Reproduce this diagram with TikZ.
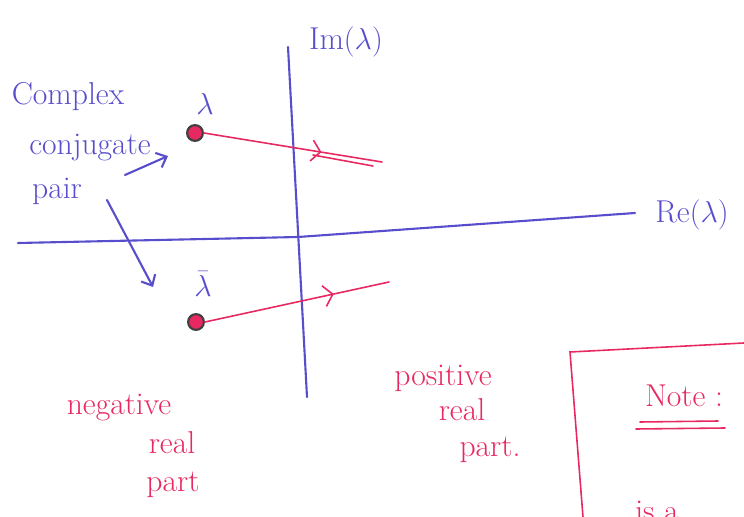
\documentclass[tikz,border=0pt]{standalone}
\usetikzlibrary{arrows.meta,decorations.markings}
\definecolor{penblue}{RGB}{88,78,205}
\definecolor{penred}{RGB}{232,40,96}
\tikzset{
  bluepen/.style={draw=penblue, line width=1.2pt, line cap=round},
  redpen/.style={draw=penred, line width=0.9pt, line cap=round},
  bluetext/.style={text=penblue, font=\fontsize{18}{20}\selectfont},
  redtext/.style={text=penred, font=\fontsize{18}{20}\selectfont},
  eigpt/.style={circle, draw=black!75, fill=penred, line width=1.2pt, inner sep=0pt, minimum size=9pt},
  midarrow/.style={postaction={decorate}, decoration={markings,
      mark=at position #1 with {\arrow[penred, line width=0.9pt]{Straight Barb[length=5pt,width=12pt]}}}}
}
\begin{document}
\begin{tikzpicture}[x=0.02cm,y=-0.02cm]
        \useasboundingbox (0,0) rectangle (744,517);
        %assi
        \coordinate (re0) at (18,243);
        \coordinate (re1) at (635,213);
        \coordinate (im0) at (288,47);
        \coordinate (im1) at (307,397);
        \draw[bluepen] (re0) -- (298,237) -- (re1);
        \draw[bluepen] (im0) -- (im1);
        \node[bluetext] (re) at (692,215) {Re$(\lambda)$};
        \node[bluetext] (im) at (346,42) {Im$(\lambda)$};

        %autovalori
        \node[eigpt] (lam) at (195,133) {};
        \node[bluetext, inner sep=1pt] (laml) at (205,104) {$\lambda$};
        \node[eigpt] (lamb) at (196,322) {};
        \node[bluetext, inner sep=1pt] (lambl) at (203,284) {$\bar\lambda$};

        %traiettorie
        \coordinate (lamend) at (382,162);
        \coordinate (lamtw0) at (313,155);
        \coordinate (lamtw1) at (373,166);
        \coordinate (lambend) at (389,282);
        \draw[redpen, midarrow=0.66] (lam.east) -- (lamend);
        \draw[redpen] (lamtw0) -- (lamtw1);
        \draw[redpen, midarrow=0.7] (lamb.east) -- (lambend);

        %coppia coniugata
        \node[bluetext] (cplx) at (68,97) {Complex};
        \node[bluetext] (conj) at (90,148) {conjugate};
        \node[bluetext] (pair) at (57,191) {pair};
        \coordinate (up0) at (125,175);
        \coordinate (up1) at (168,156);
        \coordinate (dn0) at (107,200);
        \coordinate (dn1) at (153,287);
        \draw[bluepen, -{Straight Barb[length=5pt,width=9pt]}] (up0) -- (up1);
        \draw[bluepen, -{Straight Barb[length=5pt,width=9pt]}] (dn0) -- (dn1);

        %parte reale
        \node[redtext] (neg) at (119,408) {negative};
        \node[redtext] (negre) at (172,443) {real};
        \node[redtext] (negpt) at (173,485) {part};
        \node[redtext] (pos) at (443,378) {positive};
        \node[redtext] (posre) at (462,410) {real};
        \node[redtext] (pospt) at (490,450) {part.};

        %nota
        \coordinate (box0) at (744,343);
        \coordinate (box1) at (570,352);
        \coordinate (box2) at (583,517);
        \draw[redpen] (box0) -- (box1) -- (box2);
        \node[redtext] (note) at (684,396) {Note :};
        \draw[redpen] (640,422) -- (718,421);
        \draw[redpen] (636,429) -- (725,428);
        \node[redtext, anchor=base] (isa) at (657,521) {is a};
    \end{tikzpicture}
\end{document}
